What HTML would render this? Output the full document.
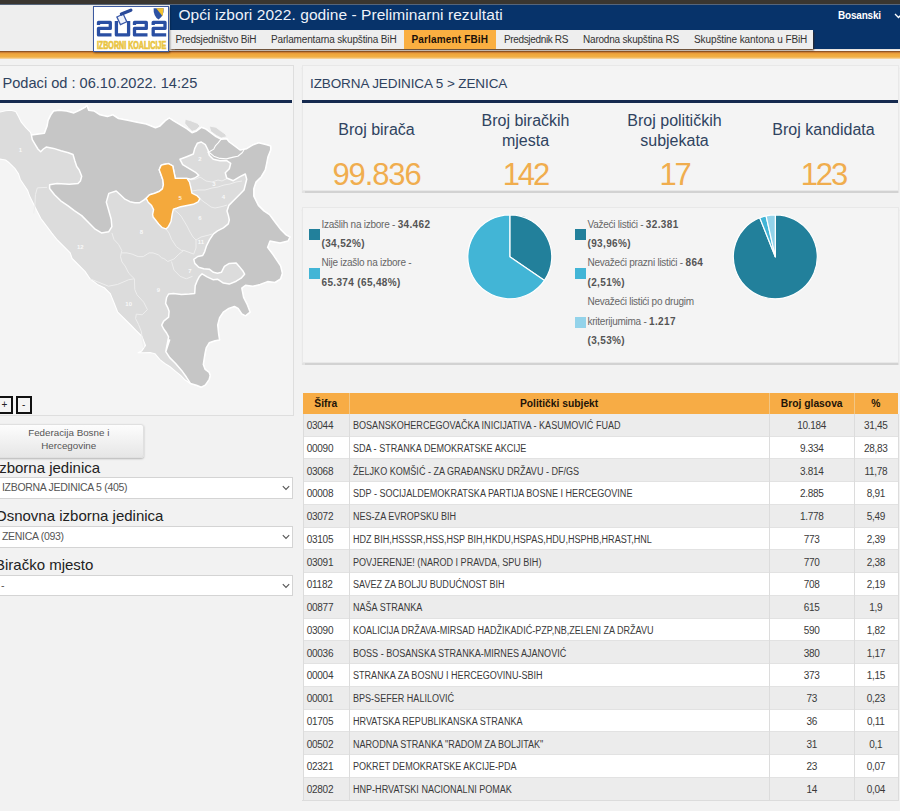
<!DOCTYPE html>
<html><head><meta charset="utf-8">
<style>
*{box-sizing:border-box;margin:0;padding:0}
html,body{width:900px;height:811px;overflow:hidden;background:#f2f2f2;font-family:"Liberation Sans",sans-serif;position:relative}
.a{position:absolute}
.t{position:absolute;white-space:nowrap;line-height:1}
#topstrip{left:0;top:0;width:900px;height:4px;background:#3a3630}
#topline{left:0;top:4px;width:900px;height:1px;background:#56657a}
#hdrl{left:0;top:5px;width:170px;height:46.5px;background:#eeeeee;border-bottom:1px solid #fbfbfb}
#blue{left:170px;top:5px;width:730px;height:44px;background:#07336a;border-bottom:1.5px solid #e8e4e0;box-sizing:content-box}
#tabs{left:170px;top:29.5px;width:643px;height:19.5px;background:#eeeeee;box-shadow:1px 1.5px 1.5px rgba(70,35,5,.75)}
#orange{left:0;top:51px;width:900px;height:8px;background:linear-gradient(#6a3a18 0,#b87030 1px,#e89a3a 2.2px,#efa83e 3.5px,#f2b045 6px,#f7dcb5 8px)}
.tab{position:absolute;top:34.8px;font-size:10px;color:#333;line-height:1}
#acttab{left:404px;top:29.5px;width:92px;height:19.5px;background:#faaf41}
.panel{position:absolute;background:#f4f4f4;border:1px solid #dedede}
.navy{position:absolute;height:3px;background:#152a4f}
.stl{position:absolute;font-size:16px;color:#2f4360;text-align:center;line-height:19.5px}
.stn{position:absolute;font-size:31px;color:#f0ad4e;text-align:center;line-height:1}
.lg{position:absolute;font-size:10px;color:#666;line-height:19.4px;white-space:nowrap;letter-spacing:-0.25px}
.lg b{color:#555;letter-spacing:0.35px}
.sq{position:absolute;width:11px;height:11px}
.lbl{position:absolute;left:-5px;font-size:15px;color:#222;line-height:1;white-space:nowrap}
.sel{position:absolute;left:-2px;width:295px;height:21.5px;background:#fff;border:1px solid #d4d4d4}
.sel span{position:absolute;left:3px;top:4.2px;font-size:10.5px;color:#555;letter-spacing:-0.3px;line-height:1;white-space:nowrap}
.chev{position:absolute;right:2.5px;top:7px;width:8px;height:6px}
.th{position:absolute;font-size:10.3px;font-weight:bold;color:#1e1408;text-align:center;line-height:1;white-space:nowrap}
.td{position:absolute;font-size:10px;color:#3a3a3a;line-height:1;white-space:nowrap}
.td.c{text-align:center}
</style></head><body>
<div id="topstrip" class="a"></div>
<div id="topline" class="a"></div>
<div id="hdrl" class="a"></div>
<div id="blue" class="a"></div>
<div id="orange" class="a"></div>
<div id="tabs" class="a"></div>
<div id="acttab" class="a"></div>
<div class="t" style="left:178.5px;top:7.3px;font-size:15.5px;color:#eef2fa;letter-spacing:0.06px">Opći izbori 2022. godine - Preliminarni rezultati</div>
<div class="t" style="left:838px;top:10.5px;font-size:10px;font-weight:bold;color:#fff;letter-spacing:-0.2px">Bosanski</div>
<svg class="a" style="left:894px;top:13px" width="9" height="6"><path d="M1 1 L4.5 4.5 L8 1" stroke="#fff" stroke-width="1.3" fill="none"/></svg>
<div class="tab" style="left:175.5px;letter-spacing:-0.2px">Predsjedništvo BiH</div>
<div class="tab" style="left:271px;letter-spacing:-0.15px">Parlamentarna skupština BiH</div>
<div class="tab" style="left:411.5px;font-weight:bold;color:#1a1008;letter-spacing:0.15px">Parlament FBiH</div>
<div class="tab" style="left:504px;letter-spacing:-0.35px">Predsjednik RS</div>
<div class="tab" style="left:583px;letter-spacing:-0.2px">Narodna skupština RS</div>
<div class="tab" style="left:694px;letter-spacing:-0.1px">Skupštine kantona u FBiH</div>
<!-- LOGO -->
<div id="logo" class="a" style="left:93px;top:5.5px;width:76px;height:46px;background:#fff;border:1.5px solid #3c5aa0;box-shadow:1px 1px 2px rgba(0,0,0,.45)"></div>
<svg class="a" style="left:93px;top:5px" width="76" height="47" viewBox="93 5 76 47">
<g fill="none" stroke="#2a4fa3" stroke-width="3.3" stroke-linejoin="round" stroke-linecap="butt">
<path d="M98.5 25 V22.4 H110.3 V28.4 H98.5 V34.9 H111.5"/>
<path d="M116.4 21 V34.9 H128.6 V21"/>
<path d="M134.5 25 V22.4 H146.3 V28.4 H134.5 V34.9 H147.5"/>
<path d="M153.2 25 V22.4 H165 V28.4 H153.2 V34.9 H166.2"/>
</g>
<rect x="118.3" y="15" width="7" height="8.5" fill="#eef2fb" stroke="#3a58a8" stroke-width="1.3" transform="rotate(-25 122 19.2)"/>
<path d="M121.5 14 L130.8 10.2" stroke="#2a4a9a" stroke-width="3.4" stroke-linecap="round"/>
<path d="M153.6 8.2 L163.6 8.2 Q164.2 15.5 158.6 19.6 Q153.2 16 153.6 8.2 Z" fill="#2d52a3"/>
<path d="M156.2 8.2 L163.6 8.2 L162.6 16.2 Z" fill="#f2c12e"/>
<text x="96.9" y="48.9" font-family="Liberation Sans" font-weight="bold" font-size="10.5" fill="#e9c440" stroke="#e9c440" stroke-width="0.7" textLength="69.3" lengthAdjust="spacingAndGlyphs">IZBORNI KOALICIJE</text>
</svg>

<!-- LEFT PANEL -->
<div class="panel" style="left:-1px;top:65px;width:295px;height:351px"></div>
<div class="t" style="left:2.5px;top:75.9px;font-size:14.6px;color:#2f4360">Podaci od : 06.10.2022. 14:25</div>
<div class="navy" style="left:0;top:100px;width:292px"></div>
<!-- MAP -->
<svg class="a" style="left:0;top:0" width="292" height="393" viewBox="0 0 292 393">
<defs><clipPath id="mc"><rect x="0" y="103" width="292" height="290"/></clipPath></defs><g clip-path="url(#mc)">
<polygon points="0.0,112.0 5.5,110.7 11.0,110.2 15.7,111.5 18.5,116.6 21.3,122.2 25.9,127.7 30.5,132.3 31.4,135.1 37.0,134.2 44.4,133.3 47.1,125.9 48.1,120.3 50.8,114.8 53.6,111.1 59.1,110.2 66.5,111.1 73.9,112.9 79.5,110.2 85.0,107.4 86.9,105.5 88.7,110.2 94.3,111.1 100.0,114.8 107.4,116.6 112.9,114.8 118.5,118.5 127.7,120.3 137.0,122.2 146.2,124.0 155.5,127.7 160.0,126.0 165.3,120.7 169.3,118.0 173.3,120.7 180.0,124.7 186.7,128.7 192.0,132.7 196.0,131.3 201.3,127.3 205.3,128.7 210.7,132.7 216.0,136.7 221.3,139.3 226.7,138.7 229.3,142.0 234.7,146.0 240.0,150.0 246.7,148.7 253.3,144.7 258.7,142.7 266.7,144.7 270.7,146.0 270.7,150.0 268.0,156.7 266.7,163.3 265.3,170.0 261.3,176.7 256.0,182.0 253.8,188.7 253.8,196.1 258.4,205.4 263.9,210.9 269.5,214.6 275.0,222.0 280.6,229.4 286.1,234.9 290.0,237.0 288.0,241.0 280.0,243.0 270.0,241.0 267.6,247.4 273.2,254.8 276.9,260.3 280.6,265.9 282.4,273.3 280.6,278.8 275.0,282.5 267.6,281.6 260.2,284.4 252.8,286.2 245.5,285.3 241.8,288.1 243.6,297.3 247.3,304.7 250.1,312.1 245.5,315.8 241.8,313.9 238.1,308.4 234.4,306.5 228.8,308.4 223.3,312.1 219.6,317.6 217.7,325.0 218.7,334.3 219.6,339.9 215.1,340.8 209.2,342.8 206.2,347.8 205.2,352.7 204.2,358.6 203.3,364.5 205.2,369.4 209.2,372.4 210.2,375.4 209.2,379.3 207.2,382.3 205.2,385.2 201.3,387.2 196.4,385.2 190.4,383.5 185.5,380.3 180.6,375.4 175.6,371.4 169.7,366.5 164.8,363.5 159.9,359.6 154.9,353.7 150.0,352.5 143.6,352.8 138.1,352.8 141.8,350.9 145.5,345.4 141.8,336.1 136.2,330.6 130.7,325.0 123.3,317.6 117.7,312.1 114.0,302.8 110.3,293.6 104.8,288.1 97.4,284.4 90.0,278.8 85.0,271.4 77.6,264.0 72.1,258.5 70.2,252.9 62.8,245.5 57.3,240.0 51.8,233.1 46.2,225.7 40.7,218.3 37.0,210.9 33.3,203.5 29.6,196.1 27.7,190.6 24.0,185.0 20.3,179.5 18.5,173.9 14.8,168.4 9.2,162.8 5.5,160.0 0.0,159.1 -5.0,159.0 -5.0,112.0" fill="#dcdcdc" stroke="#fff" stroke-width="1.1" stroke-linejoin="round"/>
<polygon points="185.3,119.3 190.7,120.7 197.3,123.3 200.0,126.0 196.0,130.0 192.0,131.3 188.0,127.3 184.7,123.3" fill="#dadada" stroke="#f6f6f6" stroke-width="0.8"/>
<polygon points="209.3,126.0 216.0,127.3 221.3,131.3 225.3,134.0 226.7,136.7 221.3,138.0 216.0,135.3 210.7,131.3" fill="#dadada" stroke="#f6f6f6" stroke-width="0.8"/>
<polyline points="47.1,187.3 37.3,187.9 35.4,194.7 34.8,207.0 33.6,213.2" fill="none" stroke="#eeeeee" stroke-width="1" stroke-linejoin="round"/>
<polyline points="111.9,232.9 114.0,239.5 118.5,244.3 121.8,250.5 120.5,256.6 122.0,262.0 125.1,266.0 128.8,273.3 134.4,278.8" fill="none" stroke="#eeeeee" stroke-width="1" stroke-linejoin="round"/>
<polyline points="90.0,278.8 98.0,282.0 108.5,286.2 117.7,284.4 128.8,279.7 134.4,278.8" fill="none" stroke="#eeeeee" stroke-width="1" stroke-linejoin="round"/>
<polyline points="134.4,278.8 134.8,289.6 137.0,294.8 143.7,302.2 147.4,309.6 142.2,314.8 136.3,314.1 135.6,318.5 138.5,324.4 141.5,331.9 142.2,340.0 144.0,348.0" fill="none" stroke="#eeeeee" stroke-width="1" stroke-linejoin="round"/>
<polyline points="121.8,252.9 127.0,252.9 132.1,254.1 138.1,256.6 143.2,256.6 149.1,252.9 153.0,252.9 158.4,254.8 161.7,257.8 163.9,258.5 167.8,261.5 174.0,259.0 178.9,254.1 183.8,250.4 193.7,254.1" fill="none" stroke="#eeeeee" stroke-width="1" stroke-linejoin="round"/>
<polyline points="166.0,228.9 169.0,233.0 171.5,239.3 176.4,246.7 181.4,250.4 183.8,250.4" fill="none" stroke="#eeeeee" stroke-width="1" stroke-linejoin="round"/>
<polyline points="171.5,261.5 174.0,270.1 180.1,276.3 186.3,278.8 192.5,276.3" fill="none" stroke="#eeeeee" stroke-width="1" stroke-linejoin="round"/>
<polyline points="190.7,180.0 196.0,179.0 200.0,177.0 206.0,181.0 212.0,182.0 218.0,180.0 222.0,181.0 228.0,178.0" fill="none" stroke="#eeeeee" stroke-width="1" stroke-linejoin="round"/>
<polyline points="191.9,191.0 198.0,190.0 205.0,190.0 212.0,188.0 218.0,187.0 224.0,185.0 230.0,184.0 236.0,182.0 242.0,181.0" fill="none" stroke="#eeeeee" stroke-width="1" stroke-linejoin="round"/>
<polyline points="199.9,198.7 204.0,202.0 207.0,204.0 211.0,207.0 215.0,208.0 220.0,207.0 224.0,206.0 227.0,205.0" fill="none" stroke="#eeeeee" stroke-width="1" stroke-linejoin="round"/>
<polyline points="173.4,209.2 178.0,213.0 181.0,216.0 184.0,221.0 187.0,226.0 190.0,232.0 193.0,237.0 196.0,240.0" fill="none" stroke="#eeeeee" stroke-width="1" stroke-linejoin="round"/>
<polyline points="196.0,240.0 201.0,237.0 205.0,236.0 209.0,235.0 212.0,234.0" fill="none" stroke="#eeeeee" stroke-width="1" stroke-linejoin="round"/>
<polyline points="193.7,254.1 196.0,248.0 196.0,240.0" fill="none" stroke="#eeeeee" stroke-width="1" stroke-linejoin="round"/>
<polygon points="31.4,135.1 37.0,134.2 44.4,133.3 47.1,125.9 48.1,120.3 50.8,114.8 53.6,111.1 59.1,110.2 66.5,111.1 73.9,112.9 79.5,110.2 85.0,107.4 86.9,105.5 88.7,110.2 94.3,111.1 100.0,114.8 107.4,116.6 112.9,114.8 118.5,118.5 127.7,120.3 137.0,122.2 146.2,124.0 155.5,127.7 160.0,126.0 165.3,120.7 169.3,118.0 173.3,120.7 180.0,124.7 186.7,128.7 192.0,132.7 196.0,131.3 201.3,127.3 205.3,128.7 210.7,132.7 216.0,136.7 221.3,139.3 226.7,138.7 229.3,142.0 234.7,146.0 240.0,150.0 246.7,148.7 253.3,144.7 258.7,142.7 266.7,144.7 270.7,146.0 270.7,150.0 268.0,156.7 266.7,163.3 265.3,170.0 261.3,176.7 256.0,182.0 253.8,188.7 253.8,196.1 258.4,205.4 263.9,210.9 269.5,214.6 275.0,222.0 280.6,229.4 286.1,234.9 290.0,237.0 288.0,241.0 280.0,243.0 270.0,241.0 267.6,247.4 273.2,254.8 276.9,260.3 280.6,265.9 282.4,273.3 280.6,278.8 275.0,282.5 267.6,281.6 260.2,284.4 252.8,286.2 245.5,285.3 241.8,288.1 243.6,297.3 247.3,304.7 250.1,312.1 245.5,315.8 241.8,313.9 238.1,308.4 234.4,306.5 228.8,308.4 223.3,312.1 219.6,317.6 217.7,325.0 218.7,334.3 219.6,339.9 215.1,340.8 209.2,342.8 206.2,347.8 205.2,352.7 204.2,358.6 203.3,364.5 205.2,369.4 209.2,372.4 210.2,375.4 209.2,379.3 207.2,382.3 205.2,385.2 201.3,387.2 196.4,385.2 190.4,383.5 190.4,383.3 186.5,377.3 181.6,370.4 175.6,363.5 169.7,357.6 165.8,351.7 167.0,345.0 169.6,340.0 165.8,351.7 168.6,336.9 166.6,333.0 163.7,329.0 161.7,325.1 163.7,321.1 168.6,317.2 169.1,311.3 167.6,307.3 165.6,303.4 166.6,297.5 168.6,294.0 173.5,293.5 181.4,294.5 189.3,294.0 194.7,293.5 195.2,285.6 197.2,280.7 199.2,276.8 202.1,273.8 207.1,276.8 213.0,279.7 217.5,279.2 223.4,283.1 229.3,284.1 236.2,281.2 241.1,278.2 244.6,274.2 243.1,271.3 239.2,266.4 236.2,262.9 229.3,263.4 224.4,266.4 221.4,272.3 217.5,273.3 213.5,272.3 209.6,269.3 203.7,268.8 198.7,267.3 194.8,263.4 193.8,259.4 197.8,256.5 202.7,255.5 204.7,251.6 206.6,245.6 209.6,239.7 213.5,233.8 217.5,230.8 223.4,227.9 228.3,223.9 229.3,220.0 228.5,216.0 227.0,211.0 228.8,205.4 234.4,199.8 239.9,194.3 244.0,190.0 246.7,179.3 245.3,174.0 240.0,176.7 233.3,180.7 226.7,178.0 225.3,172.7 229.3,168.7 230.7,163.3 226.7,160.7 220.0,160.7 213.3,159.3 209.3,155.3 208.0,150.0 205.3,144.7 201.3,142.0 197.3,143.3 194.7,148.7 193.3,154.0 186.7,156.7 180.0,159.3 182.7,164.7 189.3,168.7 196.0,172.7 198.7,175.3 194.7,178.0 190.7,179.3 187.0,178.4 180.8,178.4 175.3,178.4 174.0,172.2 172.8,166.0 168.5,163.6 162.3,164.8 161.1,165.4 159.2,169.7 161.1,174.7 162.9,180.0 163.4,184.9 162.4,188.9 159.5,191.3 154.6,193.3 149.6,194.8 146.2,198.2 143.7,200.2 139.8,202.7 134.9,202.7 129.9,201.7 125.0,199.2 120.3,194.8 116.2,191.0 108.8,193.4 106.3,202.1 108.8,210.7 111.2,219.3 111.9,226.7 108.8,231.7 101.4,232.9 95.2,229.2 89.0,223.0 81.7,215.6 74.3,210.7 68.1,205.8 60.7,200.8 54.5,194.7 49.6,188.5 49.6,184.8 57.0,183.6 69.3,184.2 78.0,183.6 80.4,181.1 81.7,176.2 79.2,170.0 76.7,166.5 74.9,161.0 73.0,154.5 68.4,152.7 61.0,150.8 53.6,148.4 46.2,147.1 43.4,149.0 40.7,151.8 37.9,149.0 35.1,144.4 32.3,139.7" fill="#c6c6c6" stroke="#fff" stroke-width="1.5" stroke-linejoin="round"/>
<polyline points="221.8,138.4 218.2,142.9 215.6,145.6 213.8,149.1 209.3,151.8 207.6,152.7" fill="none" stroke="#fff" stroke-width="1.1" stroke-linejoin="round"/>
<polyline points="209.3,152.5 213.8,156.2 220.0,158.4 226.2,158.9 233.3,157.1 237.8,156.2 242.2,152.7 244.0,150.0" fill="none" stroke="#fff" stroke-width="1.1" stroke-linejoin="round"/>
<polygon points="161.1,165.4 162.3,164.8 168.5,163.6 172.8,166.0 174.0,172.2 175.3,178.4 180.8,178.4 187.0,178.4 189.5,182.1 190.7,187.0 191.9,193.2 196.9,195.6 199.9,198.7 198.1,201.8 193.2,204.3 187.0,205.5 180.8,206.7 177.1,208.0 173.4,209.2 172.2,214.1 171.0,221.5 168.5,226.4 166.0,228.9 162.3,227.7 158.6,224.0 155.5,220.0 153.1,217.0 152.6,214.5 153.6,209.6 151.6,205.6 148.2,202.2 146.2,198.2 149.6,194.8 154.6,193.3 159.5,191.3 162.4,188.9 163.4,184.9 162.9,180.0 161.1,174.7 159.2,169.7" fill="#f4a93c" stroke="#fff" stroke-width="1.4" stroke-linejoin="round"/>
<text x="20.3" y="152" text-anchor="middle" font-family="Liberation Sans" font-size="6" font-weight="bold" fill="#fff" fill-opacity="0.85">1</text><text x="199.8" y="161.2" text-anchor="middle" font-family="Liberation Sans" font-size="6" font-weight="bold" fill="#fff" fill-opacity="0.85">2</text><text x="213.8" y="186.3" text-anchor="middle" font-family="Liberation Sans" font-size="6" font-weight="bold" fill="#fff" fill-opacity="0.85">3</text><text x="223.5" y="199" text-anchor="middle" font-family="Liberation Sans" font-size="6" font-weight="bold" fill="#fff" fill-opacity="0.85">4</text><text x="180.2" y="200" text-anchor="middle" font-family="Liberation Sans" font-size="6" font-weight="bold" fill="#fff" fill-opacity="0.85">5</text><text x="199.8" y="220.4" text-anchor="middle" font-family="Liberation Sans" font-size="6" font-weight="bold" fill="#fff" fill-opacity="0.85">6</text><text x="141.3" y="234" text-anchor="middle" font-family="Liberation Sans" font-size="6" font-weight="bold" fill="#fff" fill-opacity="0.85">8</text><text x="200.9" y="244" text-anchor="middle" font-family="Liberation Sans" font-size="6" font-weight="bold" fill="#fff" fill-opacity="0.85">11</text><text x="80.3" y="248.9" text-anchor="middle" font-family="Liberation Sans" font-size="6" font-weight="bold" fill="#fff" fill-opacity="0.85">12</text><text x="189.8" y="273" text-anchor="middle" font-family="Liberation Sans" font-size="6" font-weight="bold" fill="#fff" fill-opacity="0.85">7</text><text x="158.3" y="291.8" text-anchor="middle" font-family="Liberation Sans" font-size="6" font-weight="bold" fill="#fff" fill-opacity="0.85">9</text><text x="128.7" y="306.2" text-anchor="middle" font-family="Liberation Sans" font-size="6" font-weight="bold" fill="#fff" fill-opacity="0.85">10</text></g></svg>

<div class="a" style="left:-4px;top:396px;width:17px;height:17.5px;border:2px solid #111;background:#f4f4f4"></div>
<div class="t" style="left:1.5px;top:400px;font-size:10px;color:#222">+</div>
<div class="a" style="left:15.5px;top:396px;width:16px;height:17.5px;border:2px solid #111;background:#f4f4f4"></div>
<div class="t" style="left:22px;top:399.5px;font-size:10px;color:#222">-</div>

<div class="a" style="left:-6px;top:423.5px;width:149.5px;height:34px;border-radius:3px;background:linear-gradient(#fdfdfd,#e6e6e6);box-shadow:0 1px 2px rgba(0,0,0,.25);border:1px solid #e0e0e0"></div>
<div class="t" style="left:-6px;width:149.5px;top:425.6px;font-size:9.8px;color:#555;text-align:center;line-height:13.4px;white-space:normal">Federacija Bosne i<br>Hercegovine</div>

<div class="lbl" style="top:459.8px">Izborna jedinica</div>
<div class="sel" style="top:477px"><span>IZBORNA JEDINICA 5 (405)</span><svg class="chev" viewBox="0 0 8 6"><path d="M0.8 1.2 L4 4.4 L7.2 1.2" stroke="#555" stroke-width="1.1" fill="none"/></svg></div>
<div class="lbl" style="top:508.1px">Osnovna izborna jedinica</div>
<div class="sel" style="top:526px"><span>ZENICA (093)</span><svg class="chev" viewBox="0 0 8 6"><path d="M0.8 1.2 L4 4.4 L7.2 1.2" stroke="#555" stroke-width="1.1" fill="none"/></svg></div>
<div class="lbl" style="top:556.5px">Biračko mjesto</div>
<div class="sel" style="top:574.5px"><span style="left:2px">-</span><svg class="chev" viewBox="0 0 8 6"><path d="M0.8 1.2 L4 4.4 L7.2 1.2" stroke="#555" stroke-width="1.1" fill="none"/></svg></div>

<!-- RIGHT PANEL 1 -->
<div class="panel" style="left:302px;top:65px;width:597px;height:126px;border-color:#e8e8e8;box-shadow:0 1.5px 1px rgba(0,0,0,.13)"></div>
<div class="t" style="left:310px;top:76.9px;font-size:13.5px;color:#2f4360;letter-spacing:-0.1px">IZBORNA JEDINICA 5 &gt; ZENICA</div>
<div class="navy" style="left:302px;top:100px;width:596px"></div>
<div class="stl" style="left:302px;width:149px;top:120.3px">Broj birača</div>
<div class="stl" style="left:451px;width:149px;top:111.1px">Broj biračkih<br>mjesta</div>
<div class="stl" style="left:600px;width:149px;top:111.1px">Broj političkih<br>subjekata</div>
<div class="stl" style="left:749px;width:149px;top:120.3px">Broj kandidata</div>
<div class="stn" style="left:302px;width:149px;top:158.8px;letter-spacing:-1.1px">99.836</div>
<div class="stn" style="left:451px;width:149px;top:158.8px;letter-spacing:-2px">142</div>
<div class="stn" style="left:600px;width:149px;top:158.8px;letter-spacing:-2.3px">17</div>
<div class="stn" style="left:749px;width:149px;top:158.8px;letter-spacing:-2px">123</div>

<!-- RIGHT PANEL 2 -->
<div class="panel" style="left:302px;top:207px;width:597px;height:155.5px;border-color:#e8e8e8;box-shadow:0 1.5px 1px rgba(0,0,0,.13)"></div>
<div class="sq" style="left:309px;top:228.5px;background:#22809b"></div>
<div class="sq" style="left:309px;top:268px;background:#42b5d6"></div>
<div class="lg" style="left:321.5px;top:214.5px">Izašlih na izbore - <b>34.462</b><br><b>(34,52%)</b><br>Nije izašlo na izbore -<br><b>65.374 (65,48%)</b></div>
<div class="sq" style="left:575px;top:228.5px;background:#22809b"></div>
<div class="sq" style="left:575px;top:268px;background:#42b5d6"></div>
<div class="sq" style="left:575px;top:316.5px;background:#93d3ea"></div>
<div class="lg" style="left:587.5px;top:214.5px">Važeći listići - <b>32.381</b><br><b>(93,96%)</b><br>Nevažeći prazni listići - <b>864</b><br><b>(2,51%)</b><br>Nevažeći listići po drugim<br>kriterijumima - <b>1.217</b><br><b>(3,53%)</b></div>
<svg class="a" style="left:0;top:0" width="900" height="811" viewBox="0 0 900 811"><path d="M509.80 256.80 L509.80 214.80 A42 42 0 0 1 544.51 280.45 Z" fill="#22809b" stroke="#fff" stroke-width="1.2" stroke-linejoin="round"/><path d="M509.80 256.80 L544.51 280.45 A42 42 0 1 1 509.80 214.80 Z" fill="#42b5d6" stroke="#fff" stroke-width="1.2" stroke-linejoin="round"/><path d="M775.30 256.80 L775.30 214.80 A42 42 0 1 1 759.74 217.79 Z" fill="#22809b" stroke="#fff" stroke-width="1.2" stroke-linejoin="round"/><path d="M775.30 256.80 L759.74 217.79 A42 42 0 0 1 766.06 215.83 Z" fill="#42b5d6" stroke="#fff" stroke-width="1.2" stroke-linejoin="round"/><path d="M775.30 256.80 L766.06 215.83 A42 42 0 0 1 775.30 214.80 Z" fill="#93d3ea" stroke="#fff" stroke-width="1.2" stroke-linejoin="round"/></svg>


<!-- TABLE -->
<div class="a" style="left:302.6px;top:392.8px;width:595.0px;height:21.2px;background:#f7ac45"></div>
<div class="a" style="left:348.9px;top:392.8px;width:1px;height:21.2px;background:#f2c684"></div>
<div class="a" style="left:769.3px;top:392.8px;width:1px;height:21.2px;background:#f2c684"></div>
<div class="a" style="left:854.1px;top:392.8px;width:1px;height:21.2px;background:#f2c684"></div>
<div class="th" style="left:302.6px;width:46.3px;top:398.5px">Šifra</div>
<div class="th" style="left:348.9px;width:420.4px;top:398.5px">Politički subjekt</div>
<div class="th" style="left:769.3px;width:84.8px;top:398.5px">Broj glasova</div>
<div class="th" style="left:854.1px;width:43.5px;top:398.5px">%</div>
<div class="a" style="left:302.6px;top:414.00px;width:595.0px;height:22.74px;background:#ececec;border-bottom:1px solid #e2e2e2"></div>
<div class="td" style="left:306.7px;top:421.24px;letter-spacing:-0.25px">03044</div>
<div class="td" style="left:353.2px;top:421.24px;letter-spacing:0;transform:scaleX(0.905);transform-origin:0 0">BOSANSKOHERCEGOVAČKA INICIJATIVA - KASUMOVIĆ FUAD</div>
<div class="td c" style="left:769.3px;width:84.8px;top:421.24px;letter-spacing:-0.3px">10.184</div>
<div class="td c" style="left:854.1px;width:43.5px;top:421.24px;letter-spacing:-0.3px">31,45</div>
<div class="a" style="left:302.6px;top:436.74px;width:595.0px;height:22.74px;background:#ffffff;border-bottom:1px solid #e2e2e2"></div>
<div class="td" style="left:306.7px;top:443.98px;letter-spacing:-0.25px">00090</div>
<div class="td" style="left:353.2px;top:443.98px;letter-spacing:0;transform:scaleX(0.905);transform-origin:0 0">SDA - STRANKA DEMOKRATSKE AKCIJE</div>
<div class="td c" style="left:769.3px;width:84.8px;top:443.98px;letter-spacing:-0.3px">9.334</div>
<div class="td c" style="left:854.1px;width:43.5px;top:443.98px;letter-spacing:-0.3px">28,83</div>
<div class="a" style="left:302.6px;top:459.48px;width:595.0px;height:22.74px;background:#ececec;border-bottom:1px solid #e2e2e2"></div>
<div class="td" style="left:306.7px;top:466.72px;letter-spacing:-0.25px">03068</div>
<div class="td" style="left:353.2px;top:466.72px;letter-spacing:0;transform:scaleX(0.905);transform-origin:0 0">ŽELJKO KOMŠIĆ - ZA GRAĐANSKU DRŽAVU - DF/GS</div>
<div class="td c" style="left:769.3px;width:84.8px;top:466.72px;letter-spacing:-0.3px">3.814</div>
<div class="td c" style="left:854.1px;width:43.5px;top:466.72px;letter-spacing:-0.3px">11,78</div>
<div class="a" style="left:302.6px;top:482.22px;width:595.0px;height:22.74px;background:#ffffff;border-bottom:1px solid #e2e2e2"></div>
<div class="td" style="left:306.7px;top:489.46px;letter-spacing:-0.25px">00008</div>
<div class="td" style="left:353.2px;top:489.46px;letter-spacing:0;transform:scaleX(0.905);transform-origin:0 0">SDP - SOCIJALDEMOKRATSKA PARTIJA BOSNE I HERCEGOVINE</div>
<div class="td c" style="left:769.3px;width:84.8px;top:489.46px;letter-spacing:-0.3px">2.885</div>
<div class="td c" style="left:854.1px;width:43.5px;top:489.46px;letter-spacing:-0.3px">8,91</div>
<div class="a" style="left:302.6px;top:504.96px;width:595.0px;height:22.74px;background:#ececec;border-bottom:1px solid #e2e2e2"></div>
<div class="td" style="left:306.7px;top:512.20px;letter-spacing:-0.25px">03072</div>
<div class="td" style="left:353.2px;top:512.20px;letter-spacing:0;transform:scaleX(0.905);transform-origin:0 0">NES-ZA EVROPSKU BIH</div>
<div class="td c" style="left:769.3px;width:84.8px;top:512.20px;letter-spacing:-0.3px">1.778</div>
<div class="td c" style="left:854.1px;width:43.5px;top:512.20px;letter-spacing:-0.3px">5,49</div>
<div class="a" style="left:302.6px;top:527.71px;width:595.0px;height:22.74px;background:#ffffff;border-bottom:1px solid #e2e2e2"></div>
<div class="td" style="left:306.7px;top:534.94px;letter-spacing:-0.25px">03105</div>
<div class="td" style="left:353.2px;top:534.94px;letter-spacing:0;transform:scaleX(0.905);transform-origin:0 0">HDZ BIH,HSSSR,HSS,HSP BIH,HKDU,HSPAS,HDU,HSPHB,HRAST,HNL</div>
<div class="td c" style="left:769.3px;width:84.8px;top:534.94px;letter-spacing:-0.3px">773</div>
<div class="td c" style="left:854.1px;width:43.5px;top:534.94px;letter-spacing:-0.3px">2,39</div>
<div class="a" style="left:302.6px;top:550.45px;width:595.0px;height:22.74px;background:#ececec;border-bottom:1px solid #e2e2e2"></div>
<div class="td" style="left:306.7px;top:557.68px;letter-spacing:-0.25px">03091</div>
<div class="td" style="left:353.2px;top:557.68px;letter-spacing:0;transform:scaleX(0.905);transform-origin:0 0">POVJERENJE! (NAROD I PRAVDA, SPU BIH)</div>
<div class="td c" style="left:769.3px;width:84.8px;top:557.68px;letter-spacing:-0.3px">770</div>
<div class="td c" style="left:854.1px;width:43.5px;top:557.68px;letter-spacing:-0.3px">2,38</div>
<div class="a" style="left:302.6px;top:573.19px;width:595.0px;height:22.74px;background:#ffffff;border-bottom:1px solid #e2e2e2"></div>
<div class="td" style="left:306.7px;top:580.42px;letter-spacing:-0.25px">01182</div>
<div class="td" style="left:353.2px;top:580.42px;letter-spacing:0;transform:scaleX(0.905);transform-origin:0 0">SAVEZ ZA BOLJU BUDUĆNOST BIH</div>
<div class="td c" style="left:769.3px;width:84.8px;top:580.42px;letter-spacing:-0.3px">708</div>
<div class="td c" style="left:854.1px;width:43.5px;top:580.42px;letter-spacing:-0.3px">2,19</div>
<div class="a" style="left:302.6px;top:595.93px;width:595.0px;height:22.74px;background:#ececec;border-bottom:1px solid #e2e2e2"></div>
<div class="td" style="left:306.7px;top:603.16px;letter-spacing:-0.25px">00877</div>
<div class="td" style="left:353.2px;top:603.16px;letter-spacing:0;transform:scaleX(0.905);transform-origin:0 0">NAŠA STRANKA</div>
<div class="td c" style="left:769.3px;width:84.8px;top:603.16px;letter-spacing:-0.3px">615</div>
<div class="td c" style="left:854.1px;width:43.5px;top:603.16px;letter-spacing:-0.3px">1,9</div>
<div class="a" style="left:302.6px;top:618.67px;width:595.0px;height:22.74px;background:#ffffff;border-bottom:1px solid #e2e2e2"></div>
<div class="td" style="left:306.7px;top:625.91px;letter-spacing:-0.25px">03090</div>
<div class="td" style="left:353.2px;top:625.91px;letter-spacing:0;transform:scaleX(0.905);transform-origin:0 0">KOALICIJA DRŽAVA-MIRSAD HADŽIKADIĆ-PZP,NB,ZELENI ZA DRŽAVU</div>
<div class="td c" style="left:769.3px;width:84.8px;top:625.91px;letter-spacing:-0.3px">590</div>
<div class="td c" style="left:854.1px;width:43.5px;top:625.91px;letter-spacing:-0.3px">1,82</div>
<div class="a" style="left:302.6px;top:641.41px;width:595.0px;height:22.74px;background:#ececec;border-bottom:1px solid #e2e2e2"></div>
<div class="td" style="left:306.7px;top:648.65px;letter-spacing:-0.25px">00036</div>
<div class="td" style="left:353.2px;top:648.65px;letter-spacing:0;transform:scaleX(0.905);transform-origin:0 0">BOSS - BOSANSKA STRANKA-MIRNES AJANOVIĆ</div>
<div class="td c" style="left:769.3px;width:84.8px;top:648.65px;letter-spacing:-0.3px">380</div>
<div class="td c" style="left:854.1px;width:43.5px;top:648.65px;letter-spacing:-0.3px">1,17</div>
<div class="a" style="left:302.6px;top:664.15px;width:595.0px;height:22.74px;background:#ffffff;border-bottom:1px solid #e2e2e2"></div>
<div class="td" style="left:306.7px;top:671.39px;letter-spacing:-0.25px">00004</div>
<div class="td" style="left:353.2px;top:671.39px;letter-spacing:0;transform:scaleX(0.905);transform-origin:0 0">STRANKA ZA BOSNU I HERCEGOVINU-SBIH</div>
<div class="td c" style="left:769.3px;width:84.8px;top:671.39px;letter-spacing:-0.3px">373</div>
<div class="td c" style="left:854.1px;width:43.5px;top:671.39px;letter-spacing:-0.3px">1,15</div>
<div class="a" style="left:302.6px;top:686.89px;width:595.0px;height:22.74px;background:#ececec;border-bottom:1px solid #e2e2e2"></div>
<div class="td" style="left:306.7px;top:694.13px;letter-spacing:-0.25px">00001</div>
<div class="td" style="left:353.2px;top:694.13px;letter-spacing:0;transform:scaleX(0.905);transform-origin:0 0">BPS-SEFER HALILOVIĆ</div>
<div class="td c" style="left:769.3px;width:84.8px;top:694.13px;letter-spacing:-0.3px">73</div>
<div class="td c" style="left:854.1px;width:43.5px;top:694.13px;letter-spacing:-0.3px">0,23</div>
<div class="a" style="left:302.6px;top:709.64px;width:595.0px;height:22.74px;background:#ffffff;border-bottom:1px solid #e2e2e2"></div>
<div class="td" style="left:306.7px;top:716.87px;letter-spacing:-0.25px">01705</div>
<div class="td" style="left:353.2px;top:716.87px;letter-spacing:0;transform:scaleX(0.905);transform-origin:0 0">HRVATSKA REPUBLIKANSKA STRANKA</div>
<div class="td c" style="left:769.3px;width:84.8px;top:716.87px;letter-spacing:-0.3px">36</div>
<div class="td c" style="left:854.1px;width:43.5px;top:716.87px;letter-spacing:-0.3px">0,11</div>
<div class="a" style="left:302.6px;top:732.38px;width:595.0px;height:22.74px;background:#ececec;border-bottom:1px solid #e2e2e2"></div>
<div class="td" style="left:306.7px;top:739.61px;letter-spacing:-0.25px">00502</div>
<div class="td" style="left:353.2px;top:739.61px;letter-spacing:0;transform:scaleX(0.905);transform-origin:0 0">NARODNA STRANKA &quot;RADOM ZA BOLJITAK&quot;</div>
<div class="td c" style="left:769.3px;width:84.8px;top:739.61px;letter-spacing:-0.3px">31</div>
<div class="td c" style="left:854.1px;width:43.5px;top:739.61px;letter-spacing:-0.3px">0,1</div>
<div class="a" style="left:302.6px;top:755.12px;width:595.0px;height:22.74px;background:#ffffff;border-bottom:1px solid #e2e2e2"></div>
<div class="td" style="left:306.7px;top:762.35px;letter-spacing:-0.25px">02321</div>
<div class="td" style="left:353.2px;top:762.35px;letter-spacing:0;transform:scaleX(0.905);transform-origin:0 0">POKRET DEMOKRATSKE AKCIJE-PDA</div>
<div class="td c" style="left:769.3px;width:84.8px;top:762.35px;letter-spacing:-0.3px">23</div>
<div class="td c" style="left:854.1px;width:43.5px;top:762.35px;letter-spacing:-0.3px">0,07</div>
<div class="a" style="left:302.6px;top:777.86px;width:595.0px;height:22.74px;background:#ececec;border-bottom:1px solid #e2e2e2"></div>
<div class="td" style="left:306.7px;top:785.09px;letter-spacing:-0.25px">02802</div>
<div class="td" style="left:353.2px;top:785.09px;letter-spacing:0;transform:scaleX(0.905);transform-origin:0 0">HNP-HRVATSKI NACIONALNI POMAK</div>
<div class="td c" style="left:769.3px;width:84.8px;top:785.09px;letter-spacing:-0.3px">14</div>
<div class="td c" style="left:854.1px;width:43.5px;top:785.09px;letter-spacing:-0.3px">0,04</div>
<div class="a" style="left:302.6px;top:414.0px;width:1px;height:386.6px;background:#dcdcdc"></div>
<div class="a" style="left:348.9px;top:414.0px;width:1px;height:386.6px;background:#dcdcdc"></div>
<div class="a" style="left:769.3px;top:414.0px;width:1px;height:386.6px;background:#dcdcdc"></div>
<div class="a" style="left:854.1px;top:414.0px;width:1px;height:386.6px;background:#dcdcdc"></div>
<div class="a" style="left:897.6px;top:414.0px;width:1px;height:386.6px;background:#dcdcdc"></div>
<div class="a" style="left:302.1px;top:800.1px;width:596.0px;height:1px;background:#dcdcdc"></div>

</body></html>
